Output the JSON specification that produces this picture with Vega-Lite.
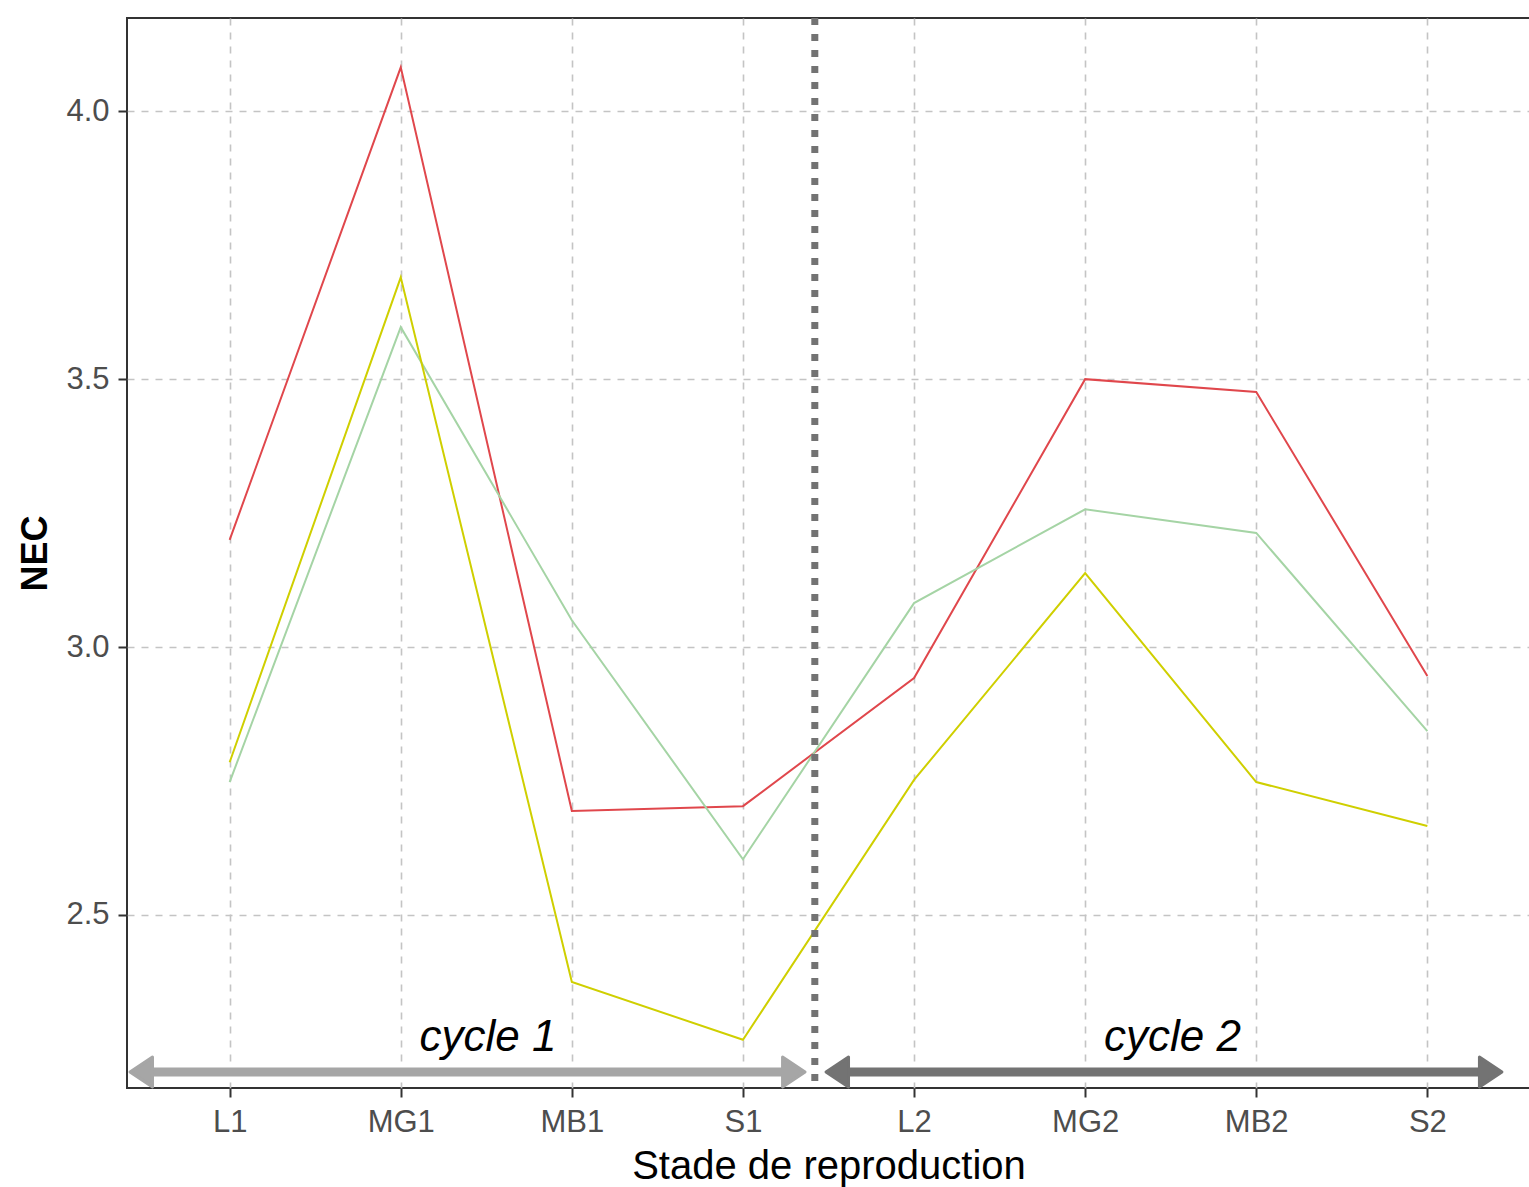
{
  "$schema": "https://vega.github.io/schema/vega-lite/v6.json",
  "autosize": "none",
  "width": 1403,
  "height": 1070,
  "padding": {"left": 127, "top": 18, "right": 0, "bottom": 99},
  "background": "white",
  "config": {
    "view": {"stroke": "#333333", "strokeWidth": 2},
    "font": "Liberation Sans",
    "axis": {
      "grid": true,
      "gridColor": "#c4c4c4",
      "gridWidth": 1.6,
      "gridDash": [7, 7],
      "domain": false,
      "tickColor": "#333333",
      "tickWidth": 2,
      "tickSize": 9,
      "labelFont": "Liberation Sans",
      "labelFontSize": 31,
      "labelColor": "#4D4D4D",
      "labelPadding": 9,
      "titleFont": "Liberation Sans",
      "titleColor": "#000000"
    }
  },
  "resolve": {"scale": {"color": "independent", "stroke": "independent", "shape": "independent"}},
  "datasets": {
    "nec": [
      {"stage": "L1", "idx": 1, "series": "A", "NEC": 3.20},
      {"stage": "MG1", "idx": 2, "series": "A", "NEC": 4.082},
      {"stage": "MB1", "idx": 3, "series": "A", "NEC": 2.694},
      {"stage": "S1", "idx": 4, "series": "A", "NEC": 2.703},
      {"stage": "L2", "idx": 5, "series": "A", "NEC": 2.942},
      {"stage": "MG2", "idx": 6, "series": "A", "NEC": 3.50},
      {"stage": "MB2", "idx": 7, "series": "A", "NEC": 3.476},
      {"stage": "S2", "idx": 8, "series": "A", "NEC": 2.946},
      {"stage": "L1", "idx": 1, "series": "B", "NEC": 2.748},
      {"stage": "MG1", "idx": 2, "series": "B", "NEC": 3.597},
      {"stage": "MB1", "idx": 3, "series": "B", "NEC": 3.050},
      {"stage": "S1", "idx": 4, "series": "B", "NEC": 2.604},
      {"stage": "L2", "idx": 5, "series": "B", "NEC": 3.082},
      {"stage": "MG2", "idx": 6, "series": "B", "NEC": 3.257},
      {"stage": "MB2", "idx": 7, "series": "B", "NEC": 3.213},
      {"stage": "S2", "idx": 8, "series": "B", "NEC": 2.843},
      {"stage": "L1", "idx": 1, "series": "C", "NEC": 2.785},
      {"stage": "MG1", "idx": 2, "series": "C", "NEC": 3.690},
      {"stage": "MB1", "idx": 3, "series": "C", "NEC": 2.375},
      {"stage": "S1", "idx": 4, "series": "C", "NEC": 2.267},
      {"stage": "L2", "idx": 5, "series": "C", "NEC": 2.752},
      {"stage": "MG2", "idx": 6, "series": "C", "NEC": 3.138},
      {"stage": "MB2", "idx": 7, "series": "C", "NEC": 2.748},
      {"stage": "S2", "idx": 8, "series": "C", "NEC": 2.666}
    ],
    "shafts": [
      {"cycle": "cycle 1", "start": 0.49, "end": 4.29, "y": 2.207},
      {"cycle": "cycle 2", "start": 4.555, "end": 8.366, "y": 2.207}
    ],
    "heads": [
      {"cycle": "cycle 1", "tip": 0.4175, "dir": "left", "y": 2.207},
      {"cycle": "cycle 1", "tip": 4.363, "dir": "right", "y": 2.207},
      {"cycle": "cycle 2", "tip": 4.4855, "dir": "left", "y": 2.207},
      {"cycle": "cycle 2", "tip": 8.436, "dir": "right", "y": 2.207}
    ],
    "labels": [
      {"cycle": "cycle 1", "x": 2.51, "y": 2.2705},
      {"cycle": "cycle 2", "x": 6.51, "y": 2.2705}
    ],
    "divider": [{"x": 4.42}]
  },
  "layer": [
    {
      "data": {"name": "nec"},
      "mark": {"type": "line", "strokeWidth": 2},
      "encoding": {
        "x": {
          "field": "idx",
          "type": "quantitative",
          "scale": {"domain": [0.4, 8.6], "nice": false, "zero": false},
          "axis": {
            "values": [1, 2, 3, 4, 5, 6, 7, 8],
            "labelExpr": "['', 'L1', 'MG1', 'MB1', 'S1', 'L2', 'MG2', 'MB2', 'S2'][datum.value]",
            "title": "Stade de reproduction",
            "titleFontSize": 40,
            "titleFontWeight": "normal",
            "titleBaseline": "middle",
            "titleY": 78,
            "labelPadding": 10
          }
        },
        "y": {
          "field": "NEC",
          "type": "quantitative",
          "scale": {"domain": [2.177, 4.174], "nice": false, "zero": false},
          "axis": {
            "values": [2.5, 3.0, 3.5, 4.0],
            "format": ".1f",
            "title": "NEC",
            "titleFontSize": 36,
            "titleFontWeight": "bold",
            "titleAngle": -90,
            "titleBaseline": "middle",
            "titleX": -92,
            "titleY": 535
          }
        },
        "color": {
          "field": "series",
          "type": "nominal",
          "scale": {"domain": ["A", "B", "C"], "range": ["#E0474C", "#A5D4A5", "#CFCF00"]},
          "legend": null
        },
        "detail": {"field": "series"}
      }
    },
    {
      "data": {"name": "divider"},
      "mark": {"type": "rule", "color": "#737373", "strokeWidth": 7, "strokeDash": [7, 9]},
      "encoding": {"x": {"field": "x", "type": "quantitative"}}
    },
    {
      "data": {"name": "shafts"},
      "mark": {"type": "rule", "strokeWidth": 9, "strokeCap": "butt"},
      "encoding": {
        "x": {"field": "start", "type": "quantitative"},
        "x2": {"field": "end"},
        "y": {"field": "y", "type": "quantitative"},
        "color": {
          "field": "cycle",
          "type": "nominal",
          "scale": {"domain": ["cycle 1", "cycle 2"], "range": ["#A6A6A6", "#737373"]},
          "legend": null
        }
      }
    },
    {
      "data": {"name": "heads"},
      "mark": {"type": "point", "filled": true, "size": 900, "strokeWidth": 3, "strokeJoin": "round", "opacity": 1},
      "encoding": {
        "x": {"field": "tip", "type": "quantitative"},
        "y": {"field": "y", "type": "quantitative"},
        "shape": {
          "field": "dir",
          "type": "nominal",
          "scale": {"domain": ["left", "right"], "range": ["M1.5,-1L0,0L1.5,1Z", "M-1.5,-1L0,0L-1.5,1Z"]},
          "legend": null
        },
        "color": {
          "field": "cycle",
          "type": "nominal",
          "scale": {"domain": ["cycle 1", "cycle 2"], "range": ["#A6A6A6", "#737373"]},
          "legend": null
        },
        "stroke": {
          "field": "cycle",
          "type": "nominal",
          "scale": {"domain": ["cycle 1", "cycle 2"], "range": ["#A6A6A6", "#737373"]},
          "legend": null
        }
      }
    },
    {
      "data": {"name": "labels"},
      "mark": {"type": "text", "font": "Liberation Sans", "fontSize": 44, "fontStyle": "italic", "color": "#000000", "baseline": "middle", "align": "center"},
      "encoding": {
        "x": {"field": "x", "type": "quantitative"},
        "y": {"field": "y", "type": "quantitative"},
        "text": {"field": "cycle"}
      }
    }
  ]
}
